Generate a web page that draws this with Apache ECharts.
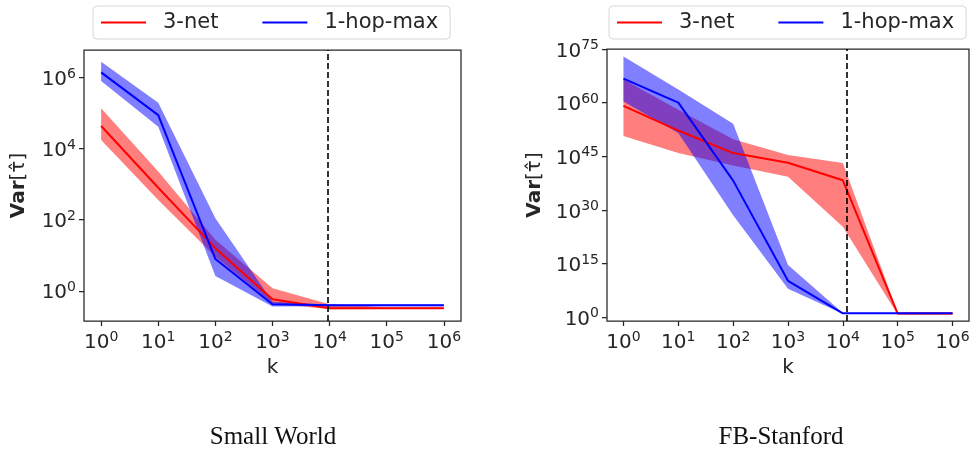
<!DOCTYPE html>
<html>
<head>
<meta charset="utf-8">
<script src="https://cdn.jsdelivr.net/npm/echarts@6/dist/echarts.min.js"></script>
<style>
html,body{margin:0;padding:0;background:#fff;}
#c{width:970px;height:452px;}
</style>
</head>
<body>
<div id="c"></div>
<script>
// ---- data ----
const K = [1, 10, 100, 1000, 1e4, 1e5, 1e6];
const SERIES_NAMES = ['3-net', '1-hop-max'];
const PANEL_TITLES = ['Small World', 'FB-Stanford'];

// Small World
const swNetMean = [4.3e4, 7.9e2, 15.8, 0.575, 0.324, 0.324, 0.324];
const swNetLo   = [1.74e4, 355, 9.1, 0.447, 0.30, 0.305, 0.305];
const swNetHi   = [1.35e5, 2.24e3, 27, 1.17, 0.42, 0.345, 0.345];
const swHopMean = [1.38e6, 8.7e4, 7.8, 0.42, 0.39, 0.39, 0.39];
const swHopLo   = [7.9e5, 4.1e4, 2.6, 0.36, 0.37, 0.37, 0.37];
const swHopHi   = [2.75e6, 1.95e5, 110, 0.49, 0.41, 0.41, 0.41];
const swVline = 9200;

// FB-Stanford
const fbNetMean = [1.26e59, 1.6e52, 7.9e45, 1.6e43, 2.0e38, 11, 11];
const fbNetLo   = [5.0e50, 7.9e45, 2.5e42, 2.0e39, 2.0e25, 6.3, 6.3];
const fbNetHi   = [3.2e66, 1.0e58, 6.3e49, 2.5e45, 1.26e43, 20, 20];
const fbHopMean = [5.0e66, 1.0e60, 1.6e38, 1.6e10, 12.6, 12.6, 12.6];
const fbHopLo   = [2.0e60, 3.2e51, 3.2e28, 1.0e8, 10, 10, 10];
const fbHopHi   = [7.9e72, 5.0e63, 1.26e54, 4.0e14, 16, 16, 16];
const fbVline = 11700;

// tick exponents
const xTickExp = [0, 1, 2, 3, 4, 5, 6];
const swYTickExp = [0, 2, 4, 6];
const fbYTickExp = [0, 15, 30, 45, 60, 75];

// ---- build ----
const lg = Math.log10;
const INK = '#262626';
const RED = '#ff0000', BLUE = '#0000ff';
const RED_BAND = 'rgba(255,0,0,0.5)', BLUE_BAND = 'rgba(0,0,255,0.5)';

const powRich = {
  b: {fontSize: 20, color: INK, fontFamily: 'DejaVu Sans', verticalAlign: 'bottom', lineHeight: 25},
  s: {fontSize: 14, color: INK, fontFamily: 'DejaVu Sans', verticalAlign: 'bottom', lineHeight: 16, padding: [0, 0, 9, 0]}
};
const powFmt = v => '{b|10}{s|' + Math.round(v) + '}';

function bandSeries(g, lo, hi, color, z) {
  const pts = K.map((k, i) => [lg(k), lg(lo[i]), lg(hi[i])]);
  return {
    type: 'custom', xAxisIndex: g, yAxisIndex: g, z: z, silent: true,
    data: pts,
    encode: {x: 0, y: [1, 2]},
    renderItem: function (params, api) {
      if (params.dataIndex !== 0) return null;
      const up = pts.map(d => api.coord([d[0], d[2]]));
      const dn = pts.slice().reverse().map(d => api.coord([d[0], d[1]]));
      return {type: 'polygon', shape: {points: up.concat(dn)}, style: {fill: color}};
    }
  };
}
function lineSeries(g, name, mean, color, z, vline) {
  const s = {
    type: 'line', name: name, xAxisIndex: g, yAxisIndex: g, z: z,
    data: K.map((k, i) => [lg(k), lg(mean[i])]),
    symbol: 'none', lineStyle: {width: 2, color: color}, itemStyle: {color: color}
  };
  if (vline) {
    s.markLine = {
      silent: true, symbol: ['none', 'none'], label: {show: false},
      lineStyle: {type: [6, 3], color: '#000', width: 1.6},
      data: [{xAxis: lg(vline)}]
    };
  }
  return s;
}

const grids = [
  {left: 84, top: 50, width: 377, height: 271},
  {left: 607, top: 49, width: 362, height: 272}
].map(g => Object.assign(g, {show: true, borderColor: INK, borderWidth: 1.25, backgroundColor: 'transparent', containLabel: false, outerBoundsMode: 'none'}));

function xAxis(g) {
  return {
    type: 'value', gridIndex: g, min: -0.3, max: 6.3, position: 'bottom',
    name: 'k', nameLocation: 'middle', nameGap: 35,
    nameTextStyle: {fontSize: 20, color: INK, fontFamily: 'DejaVu Sans'},
    axisLine: {show: false, onZero: false}, splitLine: {show: false},
    axisTick: {show: true, inside: false, length: 5, customValues: xTickExp, lineStyle: {color: INK, width: 1.25}},
    axisLabel: {customValues: xTickExp, formatter: powFmt, rich: powRich, margin: 7}
  };
}
function yAxis(g, min, max, ticks, gap) {
  return {
    type: 'value', gridIndex: g, min: min, max: max, position: 'left',
    name: '{b|Var}{n|[τ̂]}', nameLocation: 'middle', nameGap: gap, nameRotate: 90,
    nameTextStyle: {rich: {
      b: {fontSize: 20, fontWeight: 'bold', color: INK, fontFamily: 'DejaVu Sans'},
      n: {fontSize: 20, color: INK, fontFamily: 'DejaVu Sans'}
    }},
    axisLine: {show: false, onZero: false}, splitLine: {show: false},
    axisTick: {show: true, inside: false, length: 5, customValues: ticks, lineStyle: {color: INK, width: 1.25}},
    axisLabel: {customValues: ticks, formatter: powFmt, rich: powRich, margin: 8}
  };
}

function legend(left) {
  return {
    left: left, top: 6, orient: 'horizontal',
    data: SERIES_NAMES, icon: 'rect', itemWidth: 45, itemHeight: 2, itemGap: 44,
    borderColor: '#d6d6d6', borderWidth: 1, borderRadius: 4,
    padding: [6, 12, 6, 8], selectedMode: false,
    textStyle: {fontSize: 21, color: INK, fontFamily: 'DejaVu Sans', padding: [0, 0, 0, 12]}
  };
}

const option = {
  animation: false,
  backgroundColor: '#fff',
  grid: grids,
  xAxis: [xAxis(0), xAxis(1)],
  yAxis: [
    yAxis(0, -0.85, 6.77, swYTickExp, 55),
    yAxis(1, -1.04, 75, fbYTickExp, 62)
  ],
  legend: [legend(93), legend(609)],
  series: [
    bandSeries(0, swNetLo, swNetHi, RED_BAND, 1),
    bandSeries(0, swHopLo, swHopHi, BLUE_BAND, 2),
    lineSeries(0, SERIES_NAMES[0], swNetMean, RED, 3, swVline),
    lineSeries(0, SERIES_NAMES[1], swHopMean, BLUE, 4),
    bandSeries(1, fbNetLo, fbNetHi, RED_BAND, 1),
    bandSeries(1, fbHopLo, fbHopHi, BLUE_BAND, 2),
    lineSeries(1, SERIES_NAMES[0], fbNetMean, RED, 3, fbVline),
    lineSeries(1, SERIES_NAMES[1], fbHopMean, BLUE, 4)
  ],
  graphic: PANEL_TITLES.map((t, i) => ({
    type: 'text', x: [273, 781][i], y: 437,
    style: {text: t, fontSize: 25, fontFamily: 'Liberation Serif', fill: '#111', align: 'center', verticalAlign: 'middle'}
  }))
};

const chart = echarts.init(document.getElementById('c'), null, {renderer: 'canvas'});
chart.setOption(option);
</script>
</body>
</html>
